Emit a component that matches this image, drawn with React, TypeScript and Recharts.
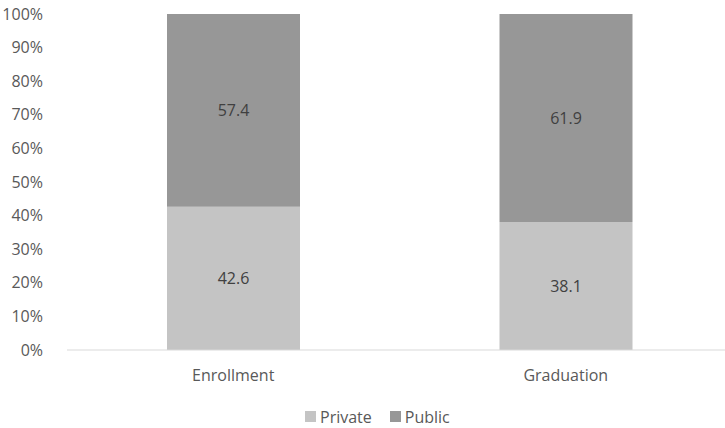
import { BarChart, Bar, XAxis, YAxis, LabelList } from 'recharts';

// share of students by sector (percent)
const categories = ['Enrollment', 'Graduation'];
const privateShare = [42.6, 38.1];
const publicShare = [57.4, 61.9];
const yTicks = [0, 10, 20, 30, 40, 50, 60, 70, 80, 90, 100];

const PRIVATE_COLOR = '#c4c4c4';
const PUBLIC_COLOR = '#979797';
const FONT = '"Open Sans", sans-serif';

const data = categories.map((name, i) => ({
  name,
  Private: privateShare[i],
  Public: publicShare[i],
}));

function LegendItem({ color, label }: { color: string; label: string }) {
  return (
    <span style={{ display: 'inline-flex', alignItems: 'center', marginRight: 18 }}>
      <span style={{ width: 11, height: 11, background: color, marginRight: 4, display: 'inline-block' }} />
      {label}
    </span>
  );
}

export default function App() {
  return (
    <div
      style={{
        position: 'absolute',
        left: 0,
        top: 0,
        width: 725,
        height: 428,
        overflow: 'hidden',
        background: '#fff',
        fontFamily: FONT,
      }}
    >
      <BarChart
        width={740}
        height={428}
        data={data}
        margin={{ top: 14, right: 8, bottom: 38, left: 0 }}
      >
        <YAxis
          width={67}
          domain={[0, 100]}
          ticks={yTicks}
          tickFormatter={(v: number) => `${v}%`}
          axisLine={false}
          tickLine={false}
          tickMargin={18}
          tick={{ fill: '#595959', fontSize: 16, fontFamily: FONT }}
        />
        <XAxis
          dataKey="name"
          height={40}
          tickLine={false}
          axisLine={{ stroke: '#d9d9d9', strokeWidth: 1 }}
          tickMargin={14}
          tick={{ fill: '#595959', fontSize: 16, fontFamily: FONT }}
        />
        <Bar dataKey="Private" stackId="s" fill={PRIVATE_COLOR} barSize={133} isAnimationActive={false}>
          <LabelList dataKey="Private" position="center" fill="#404040" style={{ fontSize: 16, fontFamily: FONT }} />
        </Bar>
        <Bar dataKey="Public" stackId="s" fill={PUBLIC_COLOR} barSize={133} isAnimationActive={false}>
          <LabelList dataKey="Public" position="center" fill="#404040" style={{ fontSize: 16, fontFamily: FONT }} />
        </Bar>
      </BarChart>
      <div
        style={{
          position: 'absolute',
          top: 405,
          left: 305,
          fontSize: 16,
          color: '#595959',
          lineHeight: '22px',
          whiteSpace: 'nowrap',
        }}
      >
        <LegendItem color={PRIVATE_COLOR} label="Private" />
        <LegendItem color={PUBLIC_COLOR} label="Public" />
      </div>
    </div>
  );
}
